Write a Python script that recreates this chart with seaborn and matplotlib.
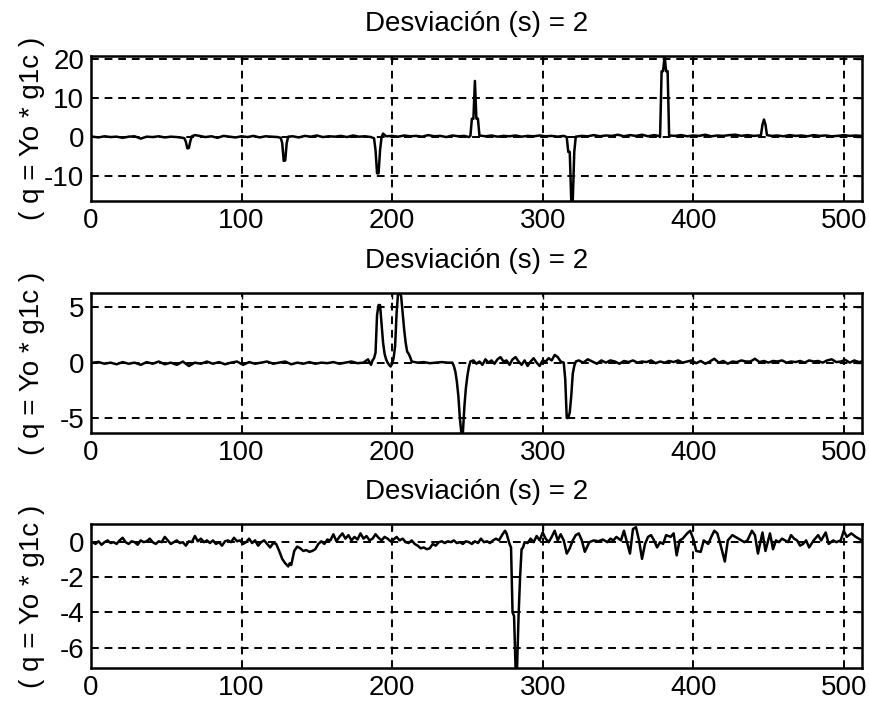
import matplotlib
matplotlib.use("Agg")
import matplotlib.pyplot as plt
import seaborn as sns

# --- datos (vertices de cada senal) ---
x1 = [1, 5, 9, 13, 17, 21, 25, 29, 33, 37, 41, 45, 49, 53, 57, 61,
      62, 63, 64, 65, 66, 67, 69, 72, 76, 80, 84, 88, 92, 96, 100, 104, 108, 112, 116, 120, 124,
      126, 127, 128, 129, 130, 131, 134, 138, 142, 146, 150, 154, 158, 162, 166, 170, 174, 178, 182, 186,
      188, 189, 190, 191, 192, 193, 194, 196, 200, 204, 208, 212, 216, 220, 224, 228, 232, 236, 240, 244, 248, 251, 252,
      253, 254, 255, 256, 257, 258, 262, 266, 270, 274, 278, 282, 286, 290, 294, 298, 302, 306, 310, 314, 316,
      317, 318, 319, 320, 321, 322, 326, 330, 334, 338, 342, 346, 350, 354, 358, 362, 366, 370, 374, 377, 378,
      379, 380, 381, 382, 383, 384, 388, 392, 396, 400, 404, 408, 412, 416, 420, 424, 428, 432, 436, 440, 444,
      445, 446, 447, 448, 449, 452, 456, 460, 464, 468, 472, 476, 480, 484, 488, 492, 496, 500, 504, 508, 512]
y1 = [0.1, -0.1, 0.2, 0.0, 0.1, -0.2, 0.1, 0.2, -0.4, 0.1, 0.0, 0.2, -0.1, 0.1, 0.0, -0.2,
      -0.3, -1.2, -2.9, -2.8, -1.0, 0.2, 0.5, 0.3, 0.0, 0.2, -0.2, 0.3, 0.1, -0.1, 0.2, 0.0, 0.3, -0.1, 0.2, 0.1, 0.0,
      -0.2, -1.5, -6.1, -6.0, -1.5, 0.1, 0.2, -0.1, 0.3, 0.1, 0.4, 0.0, 0.2, 0.1, 0.3, 0.0, 0.4, 0.1, 0.2, 0.0,
      -0.3, -3.4, -9.3, -9.3, -3.4, 0.0, 0.9, 0.2, 0.3, 0.1, 0.4, 0.2, 0.3, 0.1, 0.5, 0.2, 0.3, 0.0, 0.4, 0.2, 0.3, 0.0, 0.3,
      4.7, 4.7, 14.4, 4.7, 4.7, 0.4, 0.2, 0.4, 0.1, 0.3, 0.2, 0.4, 0.1, 0.3, 0.2, 0.4, 0.2, 0.3, 0.1, 0.3, 0.0,
      -3.8, -3.8, -16.4, -16.4, -3.8, 0.1, 0.3, 0.2, 0.5, 0.2, 0.4, 0.3, 0.6, 0.2, 0.5, 0.3, 0.6, 0.2, 0.5, 0.3, 0.0,
      16.9, 16.9, 20.8, 16.9, 16.9, 0.4, 0.3, 0.5, 0.2, 0.4, 0.3, 0.6, 0.2, 0.4, 0.3, 0.5, 0.6, 0.3, 0.5, 0.3, 0.4,
      0.5, 3.2, 4.5, 3.2, 0.5, 0.3, 0.4, 0.2, 0.5, 0.3, 0.4, 0.2, 0.5, 0.3, 0.4, 0.2, 0.3, 0.5, 0.3, 0.4, 0.3]

x2 = [1, 5, 9, 13, 17, 21, 25, 29, 33, 37, 41, 45, 49, 53, 57, 61, 65, 69, 73, 77, 81, 85, 89, 93, 97,
      101, 105, 109, 113, 117, 121, 125, 129, 133, 137, 141, 145, 149, 153, 157, 161, 165, 169, 173, 177, 181, 184, 186, 187,
      188, 189, 190, 191, 192, 193, 194, 195, 196, 197, 198, 199, 200, 201,
      202, 203, 204, 205, 206, 207, 208, 209, 210, 211, 212, 213, 217, 221, 225, 229, 233, 237, 240,
      241, 242, 243, 244, 245, 246, 247, 248, 249, 250, 251, 252,
      254, 256, 258, 260, 262, 264, 266, 268, 270, 272, 274, 276, 278, 280, 282, 284, 286, 288, 290, 292, 294, 296, 298,
      300, 302, 304, 306, 308, 310, 312, 314,
      315, 316, 317, 318, 319, 320, 321, 322,
      324, 327, 330, 333, 336, 339, 342, 345, 348, 351, 354, 357, 360, 363, 366, 369, 372, 375, 378, 381, 384, 387,
      390, 393, 396, 399, 402, 405, 408, 411, 414, 417, 420, 423, 426, 429, 432, 435, 438, 441, 444, 447, 450, 453,
      456, 459, 462, 465, 468, 471, 474, 477, 480, 483, 486, 489, 492, 495, 498, 501, 504, 507, 510, 512]
y2 = [0.0, 0.05, -0.1, 0.0, -0.15, 0.05, -0.1, 0.0, -0.2, 0.05, -0.1, 0.1, -0.15, 0.0, -0.2, 0.1, -0.3, 0.0, -0.1, 0.1, -0.1, 0.05, -0.15, 0.0, 0.1,
      -0.2, 0.05, -0.1, 0.0, 0.1, -0.1, 0.0, 0.1, -0.15, 0.0, -0.1, 0.05, -0.1, 0.0, -0.05, 0.05, -0.1, 0.0, 0.1, -0.05, 0.0, 0.3, -0.2, 0.2,
      0.4, 0.9, 4.3, 5.2, 5.2, 3.5, 1.8, 0.8, 0.3, 0.0, -0.2, -0.35, -0.1, 0.4,
      1.5, 4.5, 6.35, 6.35, 6.0, 4.5, 3.0, 1.8, 1.0, 0.8, 0.5, 0.1, 0.0, 0.05, -0.05, 0.0, 0.05, 0.0, 0.0,
      -0.3, -0.8, -1.7, -3.0, -5.0, -6.35, -6.35, -4.0, -2.3, -1.2, -0.4, 0.1,
      0.2, -0.1, 0.1, -0.2, 0.3, 0.0, 0.2, -0.1, 0.3, 0.5, 0.1, 0.2, -0.2, 0.3, 0.5, 0.1, -0.2, 0.2, -0.3, 0.1, 0.4, 0.0, -0.3,
      0.2, 0.1, 0.4, 0.2, 0.7, 0.5, 0.1, 0.0,
      -1.5, -5.0, -5.0, -4.5, -3.0, -1.0, -0.3, 0.1,
      0.2, 0.0, 0.3, 0.1, -0.1, 0.2, 0.0, 0.2, 0.1, -0.1, 0.15, 0.05, 0.2, 0.0, 0.1, 0.05, 0.2, -0.05, 0.1, 0.0, 0.15, 0.05,
      0.2, 0.0, 0.1, 0.2, -0.05, 0.15, -0.1, 0.1, 0.35, 0.0, 0.15, -0.1, 0.1, 0.05, 0.2, 0.1, 0.1, 0.35, 0.05, 0.15, 0.0, 0.15,
      0.1, 0.2, 0.0, 0.1, 0.05, 0.15, 0.0, 0.2, 0.1, 0.15, 0.0, 0.2, 0.3, 0.05, 0.1, 0.25, 0.0, 0.2, 0.05, 0.1]

x3 = [1, 3, 5, 7, 9, 11, 13, 15, 17, 19, 21, 23, 25, 27, 29, 31, 33, 35, 37, 39, 41, 43, 45, 47, 49,
      51, 53, 55, 57, 59, 61, 63, 65, 67, 69, 71, 73, 75, 77, 79, 81, 83, 85, 87, 89, 91, 93, 95, 97, 99,
      101, 103, 105, 107, 109, 111, 113, 115, 117, 119, 121, 123,
      125, 127, 129, 131, 132, 133, 135, 137, 139, 141, 143, 145, 147, 149, 151, 153, 155, 157, 159,
      161, 163, 165, 167, 169, 171, 173, 175, 177, 179, 181, 183, 185, 187, 189, 191, 193, 195, 197, 199,
      201, 203, 205, 207, 209, 211, 213, 215, 217, 219, 221, 223, 225, 227, 229, 231, 233, 235, 237, 239,
      241, 243, 245, 247, 249, 251, 253, 255, 257, 259, 261, 263, 265, 267, 269, 271, 273, 275, 276, 277, 278,
      279, 280, 281, 282, 283, 284, 285, 286, 287, 288, 290,
      292, 294, 296, 298, 300, 302, 304, 306, 308, 310, 312, 314, 316, 318, 320, 322, 324, 326, 328, 331,
      334, 337, 340, 343, 345, 347, 349, 352, 354, 356, 358, 360, 362, 364, 366, 368, 370, 372, 374, 376,
      378, 380, 382, 385, 387, 389, 391, 393, 396, 398, 400, 402, 405, 407, 410, 412, 414, 416, 418, 421,
      423, 426, 428, 430, 432, 434, 436, 439, 441, 443, 446, 448, 451, 453, 455, 457, 459, 461, 463, 465,
      467, 469, 471, 473, 475, 477, 480, 483, 485, 488, 490, 493, 495, 498, 500, 502, 505, 508, 510, 512]
y3 = [0.0, -0.1, 0.05, -0.15, 0.0, 0.1, -0.05, 0.0, -0.1, 0.1, 0.25, 0.0, -0.1, 0.05, 0.0, -0.15, 0.1, 0.0, 0.05, 0.2, 0.0, -0.1, 0.05, 0.0, 0.3,
      0.1, -0.1, 0.0, 0.1, -0.05, 0.0, -0.2, 0.05, 0.0, 0.35, 0.05, 0.2, 0.0, 0.1, -0.05, 0.1, -0.1, 0.0, -0.2, 0.05, 0.1, 0.0, 0.25, 0.05, 0.1,
      -0.1, 0.0, 0.2, -0.05, 0.1, -0.2, 0.0, 0.1, -0.1, -0.3, -0.05, -0.1,
      -0.5, -0.95, -1.2, -1.38, -1.2, -1.3, -0.5, -0.25, -0.35, -0.5, -0.45, -0.55, -0.5, -0.4, -0.1, 0.05, -0.1, 0.15, 0.1,
      0.45, 0.05, 0.3, 0.5, 0.2, 0.4, 0.1, 0.3, 0.15, 0.5, 0.2, 0.35, 0.1, 0.2, 0.45, 0.25, 0.1, 0.3, 0.2, 0.05,
      0.15, 0.3, 0.1, 0.2, 0.0, -0.05, 0.1, -0.1, -0.2, -0.35, -0.3, -0.4, -0.35, -0.1, -0.2, 0.0, 0.05, -0.05, 0.05, 0.0,
      0.1, -0.05, 0.0, -0.1, 0.05, 0.0, -0.1, 0.05, -0.05, 0.2, 0.0, 0.05, -0.05, 0.1, 0.2, 0.1, 0.4, 0.65, 0.5, 0.2, -0.1,
      -0.3, -4.0, -4.2, -7.16, -7.16, -4.2, -2.0, -0.4, -0.3, 0.0, -0.05,
      0.2, 0.0, 0.35, 0.1, 0.55, 0.2, 0.0, 0.3, 0.65, 0.1, 0.45, 0.1, -0.65, -0.35, 0.1, 0.4, 0.5, 0.1, -0.55, 0.0,
      0.1, 0.05, 0.15, 0.0, 0.2, 0.1, 0.3, 0.1, 0.65, 0.0, -0.65, 0.75, 0.85, 0.1, -0.95, -0.1, 0.3, 0.4, 0.1, -0.3,
      0.0, -0.1, 0.4, 0.3, 0.5, -0.75, 0.1, 0.2, 0.5, 0.65, 0.2, -0.5, -0.55, 0.1, -0.1, 0.3, 0.65, 0.5, -0.1, -1.1,
      0.1, 0.4, 0.3, 0.2, 0.1, 0.0, 0.1, 0.65, 0.4, -0.65, 0.55, -0.5, 0.5, -0.4, 0.1, 0.0, 0.2, 0.1, 0.0, 0.4,
      0.2, 0.1, -0.2, -0.1, 0.1, -0.3, 0.1, 0.4, 0.1, 0.55, -0.1, 0.1, 0.0, 0.1, 0.65, 0.3, 0.5, 0.3, 0.2, 0.1]

series = [(x1, y1), (x2, y2), (x3, y3)]
ylims = [(-16.4, 20.8), (-6.35, 6.3), (-7.16, 1.03)]
yticks = [[-10, 0, 10, 20], [-5, 0, 5], [-6, -4, -2, 0]]
xticks = [0, 100, 200, 300, 400, 500]
titulo = "Desviación (s) = 2"
etiqueta_y = "( q = Yo * g1c )"

sns.set_style("white")
plt.rcParams["font.family"] = ["Liberation Sans", "DejaVu Sans"]
plt.rcParams["axes.unicode_minus"] = False
plt.rcParams["text.color"] = "black"

fig = plt.figure(figsize=(8.7, 7.04), dpi=100)
posiciones = [[0.1046, 0.7145, 0.886, 0.206],
              [0.1046, 0.385, 0.886, 0.199],
              [0.1046, 0.0511, 0.886, 0.2045]]

for i, (xs, ys) in enumerate(series):
    ax = fig.add_axes(posiciones[i])
    sns.lineplot(x=xs, y=ys, ax=ax, color="black", lw=1.8, sort=False, estimator=None)
    ax.set_xlim(0, 512)
    ax.set_ylim(*ylims[i])
    ax.set_xticks(xticks)
    ax.set_yticks(yticks[i])
    ax.grid(True, color="black", lw=1.4, ls=(0, (4, 3)))
    ax.set_axisbelow(True)
    for s in ax.spines.values():
        s.set_color("black")
        s.set_linewidth(1.8)
        s.set_visible(True)
    ax.tick_params(direction="in", length=4, width=1, labelsize=20, pad=5, colors="black",
                   top=True, right=True)
    ax.set_title(titulo, fontsize=20, pad=18, color="black")
    ax.set_ylabel(etiqueta_y, fontsize=20, color="black")
    ax.yaxis.set_label_coords(-0.06, 0.5)

fig.savefig("out.png", dpi=100, facecolor="white")
